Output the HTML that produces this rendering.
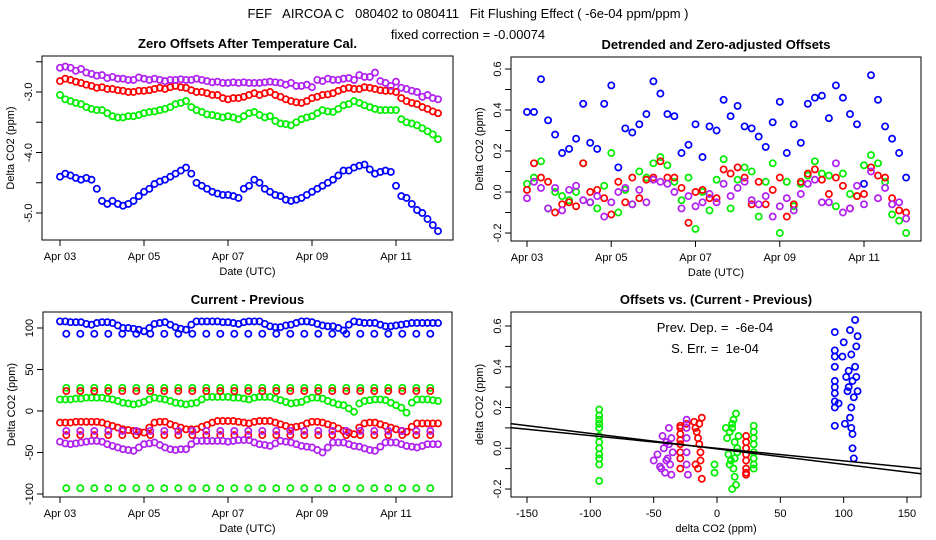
<!DOCTYPE html>
<html><head><meta charset="utf-8"><style>
body{margin:0;background:#fff;}
svg{display:block;font-family:"Liberation Sans",sans-serif;}
</style></head><body>
<svg id="chart" width="936" height="540" viewBox="0 0 936 540">
<text x="468" y="18" text-anchor="middle" font-size="13" style="white-space:pre">FEF   AIRCOA C   080402 to 080411   Fit Flushing Effect ( -6e-04 ppm/ppm )</text>
<text x="468" y="39" text-anchor="middle" font-size="13">fixed correction = -0.00074</text>
<text x="715" y="332" text-anchor="middle" font-size="13" style="white-space:pre">Prev. Dep. =  -6e-04</text>
<text x="715" y="353" text-anchor="middle" font-size="13" style="white-space:pre">S. Err. =  1e-04</text>
</svg>
<script>
// Panel 1: zero offsets, 6-hourly from Apr03 00h, plus readings at the 3h offsets
const p1Blue=[-4.4,-4.38,-4.45,-4.45,-4.8,-4.8,-4.88,-4.8,-4.65,-4.52,-4.45,-4.35,-4.25,-4.5,-4.6,-4.68,-4.7,-4.75,-4.55,-4.5,-4.65,-4.72,-4.8,-4.75,-4.65,-4.55,-4.45,-4.3,-4.25,-4.2,-4.35,-4.3,-4.55,-4.75,-4.95,-5.1,-5.3];
const p1Red=[-2.82,-2.8,-2.85,-2.9,-2.92,-2.95,-2.98,-3.0,-2.98,-2.95,-2.95,-2.9,-2.93,-3.0,-3.02,-3.05,-3.12,-3.1,-3.05,-3.05,-3.0,-3.08,-3.15,-3.18,-3.1,-3.05,-3.02,-2.95,-2.95,-2.92,-2.95,-2.98,-3.0,-3.15,-3.2,-3.28,-3.35];
const p1Green=[-3.05,-3.15,-3.2,-3.28,-3.3,-3.4,-3.42,-3.4,-3.35,-3.32,-3.28,-3.2,-3.15,-3.3,-3.37,-3.4,-3.4,-3.45,-3.35,-3.38,-3.4,-3.52,-3.55,-3.45,-3.4,-3.3,-3.33,-3.22,-3.15,-3.22,-3.28,-3.3,-3.3,-3.5,-3.55,-3.65,-3.78];
const p1Purple=[-2.6,-2.6,-2.62,-2.7,-2.72,-2.75,-2.78,-2.8,-2.78,-2.78,-2.82,-2.8,-2.8,-2.78,-2.82,-2.83,-2.85,-2.85,-2.85,-2.85,-2.83,-2.85,-2.85,-2.9,-2.92,-2.82,-2.8,-2.78,-2.8,-2.75,-2.68,-2.85,-2.83,-2.95,-3.0,-3.05,-3.12];
const p1BlueB=[-4.35,-4.42,-4.42,-4.6,-4.85,-4.85,-4.85,-4.72,-4.6,-4.48,-4.4,-4.3,-4.35,-4.55,-4.65,-4.7,-4.72,-4.6,-4.45,-4.6,-4.7,-4.78,-4.78,-4.7,-4.6,-4.5,-4.38,-4.3,-4.22,-4.28,-4.32,-4.32,-4.72,-4.85,-5.0,-5.2];
const p1RedB=[-2.78,-2.83,-2.88,-2.93,-2.95,-2.97,-3.0,-2.98,-2.97,-2.93,-2.92,-2.92,-2.97,-3.0,-3.05,-3.1,-3.1,-3.08,-3.02,-3.02,-3.05,-3.12,-3.17,-3.15,-3.08,-3.04,-2.98,-2.93,-2.95,-2.93,-2.97,-2.98,-3.1,-3.18,-3.25,-3.32];
const p1GreenB=[-3.12,-3.18,-3.25,-3.3,-3.35,-3.42,-3.4,-3.38,-3.33,-3.3,-3.25,-3.18,-3.25,-3.33,-3.38,-3.42,-3.42,-3.4,-3.33,-3.42,-3.48,-3.53,-3.5,-3.42,-3.35,-3.32,-3.28,-3.2,-3.18,-3.25,-3.3,-3.3,-3.45,-3.52,-3.6,-3.7];
const p1PurpleB=[-2.58,-2.65,-2.68,-2.73,-2.77,-2.78,-2.8,-2.76,-2.8,-2.8,-2.8,-2.79,-2.8,-2.8,-2.84,-2.85,-2.84,-2.84,-2.85,-2.84,-2.84,-2.88,-2.9,-2.88,-2.8,-2.78,-2.8,-2.77,-2.72,-2.75,-2.82,-2.9,-2.93,-2.98,-3.08,-3.1];
// Panel 2: detrended offsets, 4-hourly
const p2Blue=[0.39,0.39,0.55,0.35,0.28,0.19,0.21,0.26,0.43,0.24,0.21,0.43,0.52,0.12,0.31,0.29,0.33,0.38,0.54,0.48,0.38,0.37,0.19,0.23,0.33,0.17,0.32,0.30,0.45,0.37,0.42,0.32,0.31,0.27,0.22,0.34,0.44,0.19,0.33,0.24,0.43,0.46,0.47,0.36,0.52,0.46,0.38,0.33,0.04,0.57,0.45,0.32,0.26,0.19,0.07];
const p2Red=[0.01,0.14,0.07,0.05,-0.10,-0.06,-0.05,-0.07,0.14,0.0,0.01,-0.03,-0.11,0.05,-0.05,0.07,-0.03,0.06,0.07,0.15,0.07,0.07,0.02,-0.15,0.0,0.01,-0.03,-0.03,0.11,0.09,0.12,0.07,-0.06,0.05,-0.06,0.01,0.07,-0.12,-0.06,0.05,0.09,0.11,0.06,-0.01,0.07,0.03,-0.08,-0.02,-0.01,0.12,0.08,0.07,-0.03,-0.09,-0.1];
const p2Green=[0.04,0.07,0.15,-0.08,0.0,-0.02,-0.04,0.0,0.14,-0.05,-0.08,0.03,0.19,-0.1,0.01,-0.06,0.1,0.07,0.14,0.17,0.13,0.05,-0.04,0.07,-0.18,0.0,-0.09,0.06,0.16,-0.08,0.06,0.12,0.10,-0.12,0.05,0.14,-0.2,0.05,-0.07,0.04,0.08,0.15,0.09,0.08,-0.07,0.09,-0.01,-0.02,0.13,0.18,0.14,0.05,-0.11,-0.14,-0.2];
const p2Purple=[-0.03,0.05,0.02,-0.08,0.02,-0.09,0.01,0.03,-0.04,-0.05,-0.02,-0.12,-0.05,0.0,0.02,-0.06,0.01,-0.05,0.06,0.05,0.04,0.0,-0.08,-0.02,-0.07,-0.05,-0.01,-0.05,0.04,-0.02,0.02,0.05,-0.04,-0.06,-0.02,-0.12,-0.07,-0.03,-0.09,-0.01,0.04,0.06,-0.05,-0.05,0.14,-0.1,-0.08,0.03,-0.06,0.1,-0.03,0.02,-0.06,-0.05,-0.13];
// Panel 3: current - previous; main series 6-hourly (+3h offsets), alternates 8-hourly
const p3BlueMain=[108,107,107,104,107,106,100,99,96,105,107,101,98,108,108,108,107,105,108,108,102,101,104,108,107,103,102,97,108,106,106,102,103,105,106,106,106];
const p3GreenMain=[14,14,15,16,16,14,10,8,11,16,14,10,8,10,17,17,17,16,14,17,17,13,9,11,16,15,10,7,-1,12,14,13,7,-2,14,14,12];
const p3RedMain=[-14,-14,-13,-13,-14,-18,-22,-24,-26,-14,-13,-18,-22,-22,-17,-12,-12,-13,-15,-12,-12,-16,-20,-18,-13,-14,-18,-24,-28,-15,-14,-18,-22,-25,-15,-15,-15];
const p3PurpleMain=[-37,-40,-38,-36,-37,-42,-46,-48,-40,-38,-44,-47,-46,-36,-36,-36,-37,-35,-35,-40,-42,-36,-38,-42,-44,-50,-38,-38,-42,-45,-48,-38,-38,-42,-44,-40,-40];
const p3BlueMainB=[108,107,105,106,107,103,100,98,100,106,104,99,104,108,108,107,106,107,108,105,101,103,106,108,105,102,100,104,107,106,104,102,104,106,106,106];
const p3GreenMainB=[14,15,16,16,15,12,9,9,14,15,12,9,9,14,17,17,16,15,16,17,15,11,10,14,16,12,8,3,9,13,14,10,4,10,14,13];
const p3RedMainB=[-14,-13,-13,-13,-16,-20,-23,-25,-20,-13,-16,-20,-22,-19,-14,-12,-12,-14,-13,-12,-14,-18,-19,-15,-13,-16,-21,-26,-20,-14,-16,-20,-24,-19,-15,-15];
const p3PurpleMainB=[-39,-39,-37,-36,-40,-44,-47,-44,-39,-41,-46,-46,-40,-36,-36,-36,-36,-35,-38,-41,-39,-37,-40,-43,-47,-44,-38,-40,-43,-47,-43,-38,-40,-43,-42,-40];
const p3BlueAlt=[93,93,93,93,93,93,93,93,93,93,93,93,93,93,93,93,93,93,93,93,93,93,93,93,93,93,93];
const p3GreenHigh=[28,28,28,28,28,28,28,28,28,28,28,28,28,28,28,28,28,28,28,28,28,28,28,28,28,28,28];
const p3GreenLow=[-93,-93,-93,-93,-93,-93,-93,-93,-93,-93,-93,-93,-93,-93,-93,-93,-93,-93,-93,-93,-93,-93,-93,-93,-93,-93,-93];
const p3RedHigh=[24,24,24,24,24,24,24,24,24,24,24,24,24,24,24,24,24,24,24,24,24,24,24,24,24,24,24];
const p3RedLow=[-29,-29,-29,-29,-29,-29,-29,-29,-29,-29,-29,-29,-29,-29,-29,-29,-29,-29,-29,-29,-29,-29,-29,-29,-29,-29,-29];
const p3PurpleAlt=[-24,-24,-24,-24,-24,-24,-24,-24,-24,-24,-24,-24,-24,-24,-24,-24,-24,-24,-24,-24,-24,-24,-24,-24,-24,-24,-24];
// Panel 4: offsets vs current-previous
const p4GreenX=[-93,-93,-93,-93,-93,-93,-93,-93,-93,-93,-93,-93,-2,-2,7,8,9,10,11,12,12,13,13,14,14,15,15,16,17,10,12,14,16,29,29,29,29,29,29,29,29];
const p4GreenY=[0.19,0.16,0.12,0.1,0.06,0.03,0.0,-0.03,-0.05,-0.08,0.14,-0.16,-0.08,-0.12,0.1,0.05,-0.03,0.08,-0.06,0.12,-0.2,0.14,-0.1,0.03,-0.05,0.17,-0.18,0.0,0.06,-0.08,0.1,-0.14,-0.02,0.11,0.08,0.05,0.02,-0.02,-0.05,-0.08,-0.1];
const p4RedX=[-29,-29,-29,-29,-29,-29,-29,-29,-24,-18,-17,-16,-15,-14,-13,-13,-12,-12,-15,-17,-14,23,23,23,23,23,23,23,23];
const p4RedY=[0.1,0.07,0.04,0.02,-0.02,-0.05,-0.1,0.11,0.12,0.13,0.1,0.08,0.05,0.02,-0.02,-0.06,0.15,-0.15,-0.1,-0.08,0.12,0.06,0.03,0.0,-0.03,-0.06,-0.1,-0.12,-0.13];
const p4PurpleX=[-50,-47,-45,-43,-42,-41,-40,-39,-38,-37,-36,-35,-44,-40,-38,-36,-24,-24,-24,-24,-24,-23];
const p4PurpleY=[-0.06,-0.03,-0.09,0.06,0.0,-0.12,0.03,-0.05,0.1,-0.08,0.05,-0.02,-0.1,-0.06,0.02,-0.13,0.14,0.1,0.05,-0.02,-0.08,-0.13];
const p4BlueX=[93,93,93,93,93,93,93,93,93,93,96,99,100,101,102,103,104,104,105,105,106,106,107,107,108,108,109,109,110,110,111,111,107,106];
const p4BlueY=[0.11,0.2,0.27,0.33,0.4,0.48,0.57,0.45,0.23,0.3,0.22,0.45,0.52,0.12,0.35,0.28,0.38,0.3,0.15,0.58,0.2,0.46,0.0,0.33,-0.05,0.25,0.4,0.63,0.5,0.35,0.55,0.28,0.07,0.1];
const fitSlope=[-0.00076,-0.00062];
const fitIntercept=[-0.003,0.0];
const dateTicks=[0,2,4,6,8];
const dateLabels=["Apr 03","Apr 05","Apr 07","Apr 09","Apr 11"];

const NS='http://www.w3.org/2000/svg';
const svg=document.getElementById('chart');
const COL={blue:'#0000ff',red:'#ff0000',green:'#00ee00',purple:'#b020f0'};
function mk(tag,attrs,parent){const e=document.createElementNS(NS,tag);for(const k in attrs)e.setAttribute(k,attrs[k]);(parent||svg).appendChild(e);return e;}
function lin(d0,d1,r0,r1){return v=>r0+(v-d0)*(r1-r0)/(d1-d0);}

function panel(o){
  const g=mk('g',{});
  
  
  const t=mk('text',{x:(o.L+o.R)/2,y:o.T-8,'text-anchor':'middle','font-size':13,'font-weight':'bold'},g);
  t.textContent=o.title;
  
  
  const box=mk('rect',{x:o.L,y:o.T,width:o.R-o.L,height:o.B-o.T,fill:'none',stroke:'#000','stroke-width':1},g);
  
  
  const ya=mk('g',{},g);
  
  
  o.yt.forEach((v,i)=>{const y=o.ys(v);
    mk('line',{x1:o.L-6,x2:o.L,y1:y,y2:y,stroke:'#000'},ya);
    if(o.yl[i]!==''){const tx=mk('text',{x:o.L-10,y:y,'text-anchor':'middle','font-size':11,transform:`rotate(-90 ${o.L-10} ${y})`},ya);tx.textContent=o.yl[i];
      
      }
  });
  const yt=mk('text',{x:0,y:0,'text-anchor':'middle','font-size':11,transform:`translate(${o.L-28},${(o.T+o.B)/2}) rotate(-90)`},g);
  yt.textContent=o.ytitle;
  
  
  const xa=mk('g',{},g);
  
  
  o.xt.forEach((v,i)=>{const x=o.xs(v);
    mk('line',{x1:x,x2:x,y1:o.B,y2:o.B+6,stroke:'#000'},xa);
    const tx=mk('text',{x:x,y:o.B+20,'text-anchor':'middle','font-size':11},xa);tx.textContent=o.xl[i];
    
    
  });
  const xt=mk('text',{x:(o.L+o.R)/2,y:o.B+35,'text-anchor':'middle','font-size':11},g);
  xt.textContent=o.xtitle;
  
  
  return g;
}
function pts(g,xsArr,ysArr,xs,ys,color,name){
  const s=mk('g',{fill:'none',stroke:color,'stroke-width':1.7},g);
  
  
  ysArr.forEach((v,i)=>{const c=mk('circle',{cx:xs(xsArr[i]).toFixed(1),cy:ys(v).toFixed(1),r:3.1},s);
    
    });
}
const hrs=(n,step,start)=>Array.from({length:n},(_,i)=>(start+i*step)/24);

// Panel 1
{const xs=lin(0,8,60,396),ys=lin(-3,-5,92,213);
 const g=panel({name:'zero-offsets-panel',title:'Zero Offsets After Temperature Cal.',L:42,R:453,T:56,B:240,xs,ys,
  yt:[-2.5,-3,-3.5,-4,-4.5,-5],yl:['','-3.0','','-4.0','','-5.0'],xt:dateTicks,xl:dateLabels,ytitle:'Delta CO2 (ppm)',xtitle:'Date (UTC)'});
 const t=hrs(37,6,0),tb=hrs(36,6,3);
 pts(g,t,p1Blue,xs,ys,COL.blue,'series-blue');
 pts(g,tb,p1BlueB,xs,ys,COL.blue,'series-blue-b');
 pts(g,t,p1Green,xs,ys,COL.green,'series-green');
 pts(g,tb,p1GreenB,xs,ys,COL.green,'series-green-b');
 pts(g,t,p1Red,xs,ys,COL.red,'series-red');
 pts(g,tb,p1RedB,xs,ys,COL.red,'series-red-b');
 pts(g,t,p1Purple,xs,ys,COL.purple,'series-purple');
 pts(g,tb,p1PurpleB,xs,ys,COL.purple,'series-purple-b');}
// Panel 2
{const xs=lin(0,8,527,864),ys=lin(0.6,-0.2,69,233);
 const g=panel({name:'detrended-offsets-panel',title:'Detrended and Zero-adjusted Offsets',L:511,R:921,T:57,B:241,xs,ys,
  yt:[-0.2,-0.1,0,0.1,0.2,0.3,0.4,0.5,0.6],yl:['-0.2','','0.0','','0.2','','0.4','','0.6'],xt:dateTicks,xl:dateLabels,ytitle:'Delta CO2 (ppm)',xtitle:'Date (UTC)'});
 const t=hrs(55,4,0);
 pts(g,t,p2Blue,xs,ys,COL.blue,'series-blue');
 pts(g,t,p2Green,xs,ys,COL.green,'series-green');
 pts(g,t,p2Red,xs,ys,COL.red,'series-red');
 pts(g,t,p2Purple,xs,ys,COL.purple,'series-purple');}
// Panel 3
{const xs=lin(0,8,60,396),ys=lin(100,-100,328,494);
 const g=panel({name:'current-minus-previous-panel',title:'Current - Previous',L:43,R:452,T:312,B:497,xs,ys,
  yt:[-100,-50,0,50,100],yl:['-100','-50','0','50','100'],xt:dateTicks,xl:dateLabels,ytitle:'Delta CO2 (ppm)',xtitle:'Date (UTC)'});
 const t=hrs(37,6,0),tb=hrs(36,6,3),ta=hrs(27,8,3.6);
 pts(g,t,p3BlueMain,xs,ys,COL.blue,'series-blue');
 pts(g,tb,p3BlueMainB,xs,ys,COL.blue,'series-blue-b');
 pts(g,ta,p3BlueAlt,xs,ys,COL.blue,'series-blue-alt');
 pts(g,t,p3GreenMain,xs,ys,COL.green,'series-green');
 pts(g,tb,p3GreenMainB,xs,ys,COL.green,'series-green-b');
 pts(g,ta,p3GreenHigh,xs,ys,COL.green,'series-green-high');
 pts(g,ta,p3GreenLow,xs,ys,COL.green,'series-green-low');
 pts(g,t,p3RedMain,xs,ys,COL.red,'series-red');
 pts(g,tb,p3RedMainB,xs,ys,COL.red,'series-red-b');
 pts(g,ta,p3RedHigh,xs,ys,COL.red,'series-red-high');
 pts(g,ta,p3RedLow,xs,ys,COL.red,'series-red-low');
 pts(g,ta,p3PurpleAlt,xs,ys,COL.purple,'series-purple-alt');
 pts(g,t,p3PurpleMain,xs,ys,COL.purple,'series-purple');
 pts(g,tb,p3PurpleMainB,xs,ys,COL.purple,'series-purple-b');}
// Panel 4
{const xs=lin(-150,150,527,907),ys=lin(0.6,-0.2,326,489);
 const g=panel({name:'offsets-vs-diff-panel',title:'Offsets vs. (Current - Previous)',L:511,R:921,T:312,B:497,xs,ys,
  yt:[-0.2,-0.1,0,0.1,0.2,0.3,0.4,0.5,0.6],yl:['-0.2','','0.0','','0.2','','0.4','','0.6'],xt:[-150,-100,-50,0,50,100,150],xl:['-150','-100','-50','0','50','100','150'],ytitle:'delta CO2 (ppm)',xtitle:'delta CO2 (ppm)'});
 pts(g,p4GreenX,p4GreenY,xs,ys,COL.green,'series-green');
 pts(g,p4RedX,p4RedY,xs,ys,COL.red,'series-red');
 pts(g,p4PurpleX,p4PurpleY,xs,ys,COL.purple,'series-purple');
 pts(g,p4BlueX,p4BlueY,xs,ys,COL.blue,'series-blue');
 const x0=-163,x1=161;
 fitSlope.forEach((s,i)=>{const l=mk('line',{x1:xs(x0),x2:xs(x1),y1:ys(fitIntercept[i]+s*x0),y2:ys(fitIntercept[i]+s*x1),stroke:'#000','stroke-width':1.5},g);
  
  });}
</script>
</body></html>
